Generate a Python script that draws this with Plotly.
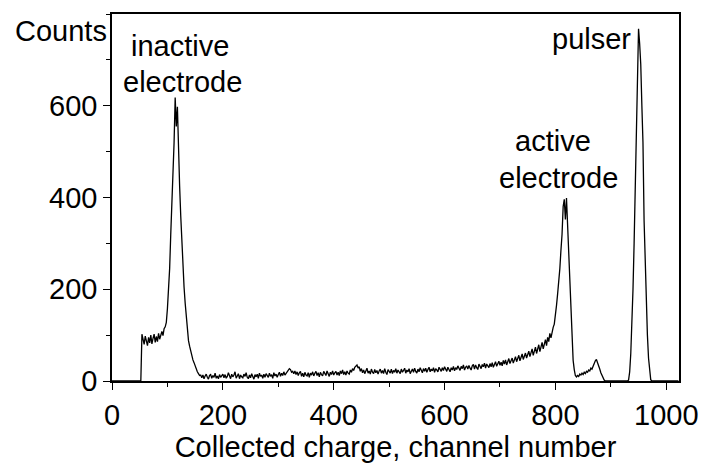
import plotly.graph_objects as go

# counts, one value every 2nd channel (0, 2, 4, ... 1022)
counts = [
    # 0 - 52
    0, 0, 0, 0, 0, 0, 0, 0, 0, 0, 0, 0, 0, 0, 0, 0, 0, 0, 0, 0, 0, 0, 0, 0, 0, 0, 0,
    # 54 - 94 (low-energy plateau)
    102, 90, 80, 98, 85, 77, 95, 83, 100, 81, 93, 102, 84, 97, 86, 104, 91, 101, 108, 99, 114,
    # 96 - 160 (inactive electrode peak)
    118, 128, 158, 200, 245, 320, 385, 440, 520, 618, 555, 598, 480, 425, 360, 300, 255,
    205, 170, 135, 110, 88, 76, 64, 55, 46, 40, 32, 26, 20, 16, 12, 13,
    # 162 - 640 (continuum)
    7, 13, 5, 11, 15, 8, 4, 12, 14, 6, 12, 8, 17, 6, 11, 5, 14, 8, 12, 15,
    7, 14, 6, 10, 18, 10, 5, 15, 9, 13, 20, 6, 12, 16, 5, 13, 9, 7, 15, 10,
    18, 8, 5, 13, 7, 16, 10, 4, 14, 9, 15, 6, 17, 10, 13, 6, 15, 8, 16, 11,
    8, 17, 10, 14, 6, 18, 11, 15, 8, 14, 19, 10, 17, 12, 20, 13, 17, 22, 24, 27,
    25, 19, 21, 16, 22, 14, 20, 12, 18, 21, 10, 17, 9, 19, 13, 11, 18, 8, 17, 13,
    20, 11, 17, 21, 12, 18, 9, 19, 14, 11, 21, 15, 12, 22, 16, 10, 19, 14, 22, 13,
    18, 21, 13, 19, 12, 22, 16, 24, 14, 20, 13, 22, 17, 15, 24, 19, 27, 23, 30, 33,
    35, 28, 31, 21, 27, 18, 24, 16, 23, 28, 17, 22, 15, 26, 19, 16, 25, 18, 23, 15,
    22, 26, 17, 23, 16, 27, 19, 14, 25, 20, 17, 26, 16, 23, 19, 27, 17, 24, 21, 16,
    26, 19, 23, 28, 17, 24, 20, 27, 16, 23, 26, 19, 28, 21, 17, 26, 20, 29, 22, 18,
    27, 21, 28, 19, 25, 30, 20, 26, 22, 29, 19, 27, 24, 20, 30, 24, 21, 29, 23, 31,
    24, 21, 30, 25, 20, 29, 24, 32, 22, 29, 25, 33, 26, 23, 32, 27, 35, 24, 30, 33,
    # 642 - 800 (rising tail)
    26, 34, 28, 24, 33, 36, 26, 35, 29, 25, 37, 30, 27, 36, 31, 39, 28, 37, 32, 29,
    38, 31, 40, 30, 36, 42, 32, 39, 43, 34, 41, 33, 45, 37, 46, 35, 43, 49, 38, 45,
    50, 39, 47, 53, 42, 50, 56, 44, 53, 59, 47, 57, 61, 50, 60, 65, 53, 63, 70, 56,
    67, 74, 60, 71, 79, 64, 76, 84, 70, 81, 90, 77, 95, 86, 104, 94, 110, 117, 124, 140,
    # 802 - 892 (active electrode peak and shoulder)
    165, 190, 211, 245, 285, 320, 380, 396, 352, 399, 340, 281, 210, 150, 70, 45, 25, 12, 9, 12,
    10, 15, 13, 17, 14, 19, 16, 21, 19, 24, 22, 28, 26, 33, 38, 44, 47, 41, 35, 26,
    18, 11, 6, 2, 0, 0,
    # 894 - 930
    0, 0, 0, 0, 0, 0, 0, 0, 0, 0, 0, 0, 0, 0, 0, 0, 0, 0, 0,
    # 932 - 972 (pulser)
    2, 20, 60, 115, 200, 300, 410, 530, 650, 768, 735, 690, 600, 520, 350, 250, 165, 100, 50, 18, 3,
    # 974 - 1022
    0, 0, 0, 0, 0, 0, 0, 0, 0, 0, 0, 0, 0, 0, 0, 0, 0, 0, 0, 0, 0, 0, 0, 0, 0,
]

# channel numbers belonging to the counts above
channels = list(range(0, 1024, 2))[:len(counts)]

x_ticks = [0, 200, 400, 600, 800, 1000]
y_ticks = [0, 200, 400, 600]

FONT = "Liberation Sans, Arial, sans-serif"
FS = 29

fig = go.Figure()
fig.add_trace(go.Scatter(
    x=channels, y=counts, mode="lines",
    line=dict(color="black", width=1.3), showlegend=False,
))

axis_common = dict(
    showgrid=False, zeroline=False, showline=True, linecolor="black",
    linewidth=1.6, mirror=True, ticks="outside", ticklen=7, tickwidth=1.4,
    tickcolor="black", tickfont=dict(family=FONT, size=FS, color="black"),
)
fig.update_xaxes(
    range=[0, 1023], tickvals=x_ticks, ticktext=[str(v) for v in x_ticks],
    minor=dict(dtick=100, ticks="outside", ticklen=4, tickwidth=1.2, tickcolor="black"),
    title=dict(text="Collected charge, channel number",
               font=dict(family=FONT, size=FS, color="black"), standoff=0),
    **axis_common,
)
fig.update_yaxes(
    range=[0, 800], tickvals=y_ticks, ticktext=[str(v) for v in y_ticks],
    minor=dict(dtick=100, ticks="outside", ticklen=4, tickwidth=1.2, tickcolor="black"),
    **axis_common,
)

labels = [
    ("inactive", 123, 730),
    ("electrode", 127, 651),
    ("active", 795, 523),
    ("electrode", 806, 442),
    ("pulser", 866, 745),
]
for text, xx, yy in labels:
    fig.add_annotation(x=xx, y=yy, xref="x", yref="y", text=text, showarrow=False,
                       font=dict(family=FONT, size=FS, color="black"),
                       xanchor="center", yanchor="middle")

fig.add_annotation(x=-0.09, y=0.955, xref="paper", yref="paper", text="Counts",
                   showarrow=False, font=dict(family=FONT, size=FS, color="black"),
                   xanchor="center", yanchor="middle")

fig.update_layout(
    width=710, height=463,
    margin=dict(l=112, r=23, t=13, b=73),
    paper_bgcolor="white", plot_bgcolor="white",
    font=dict(family=FONT, color="black"),
)

fig.write_html("out.html")
